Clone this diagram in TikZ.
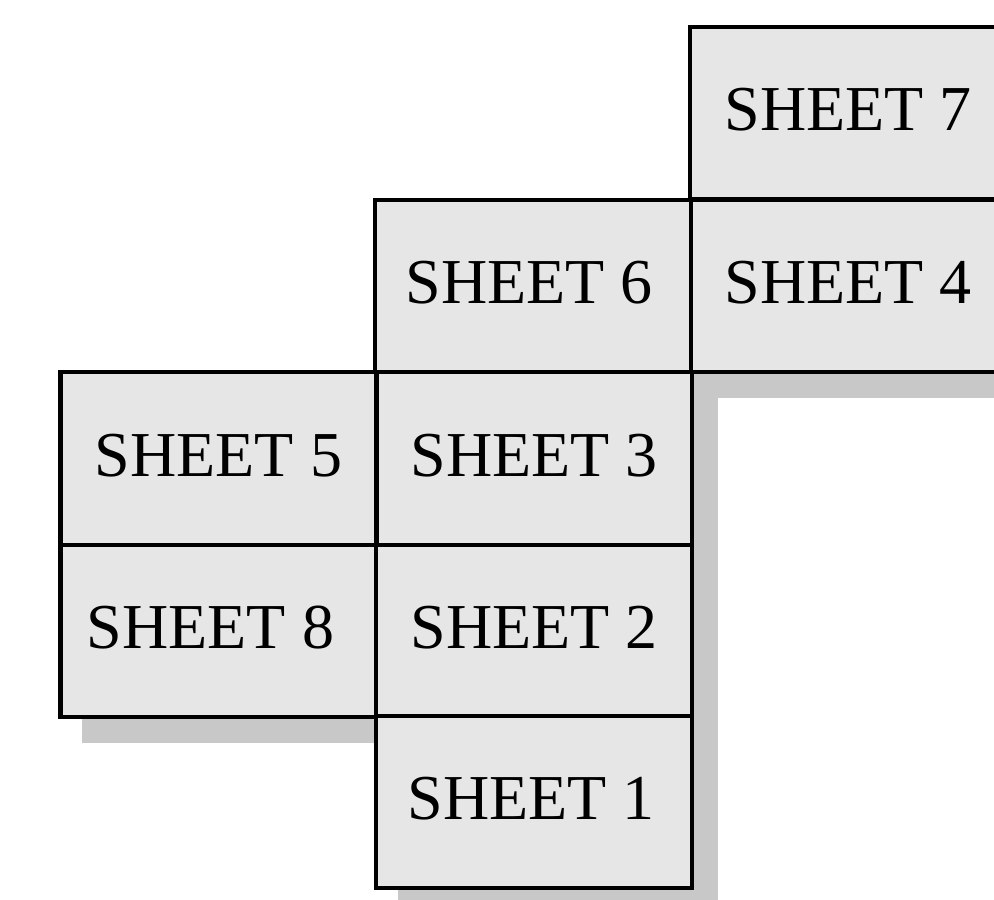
\documentclass[tikz,border=0pt]{standalone}
\usepackage{fontspec}
\setmainfont{Liberation Serif}
\usetikzlibrary{calc,backgrounds}
\definecolor{sheetfill}{HTML}{E6E6E6}
\definecolor{shadowgray}{HTML}{C8C8C8}
\begin{document}
\begin{tikzpicture}[x=0.75pt,y=-0.75pt,
  sheetbox/.style={draw=black,line width=3.2pt,fill=sheetfill,inner sep=0pt,
    minimum width=237pt,minimum height=129.5pt},
  sheettext/.style={inner sep=0pt,font=\fontsize{48}{57}\selectfont,yshift=2.5pt},
  shadowfill/.style={fill=shadowgray}]
\useasboundingbox (0,0) rectangle (994,899);
% boxes (centres in pixel coordinates)
\node[sheetbox] (s7) at (848,113) {};
\node[sheetbox] (s4) at (848,286) {};
\node[sheetbox] (s6) at (533,286) {};
\node[sheetbox] (s3) at (534,458.5) {};
\node[sheetbox] (s5) at (218.5,458.5) {};
\node[sheetbox] (s8) at (218.5,631) {};
\node[sheetbox] (s2) at (534,631) {};
\node[sheetbox] (s1) at (534,802) {};
% labels
\node[sheettext] (t7) at (s7.center) {SHEET 7};
\node[sheettext] (t4) at (s4.center) {SHEET 4};
\node[sheettext,xshift=-3pt] (t6) at (s6.center) {SHEET 6};
\node[sheettext] (t3) at (s3.center) {SHEET 3};
\node[sheettext] (t5) at (s5.center) {SHEET 5};
\node[sheettext,xshift=-6pt] (t8) at (s8.center) {SHEET 8};
\node[sheettext] (t2) at (s2.center) {SHEET 2};
\node[sheettext,xshift=-2pt] (t1) at (s1.center) {SHEET 1};
% shadows
\begin{scope}[on background layer]
  \foreach \n in {s7,s4,s6,s3,s5,s8,s2,s1}{
    \fill[shadowfill] ($(\n.north west)+(24,24)$) rectangle ($(\n.south east)+(24,24)$);
  }
\end{scope}
\end{tikzpicture}
\end{document}
